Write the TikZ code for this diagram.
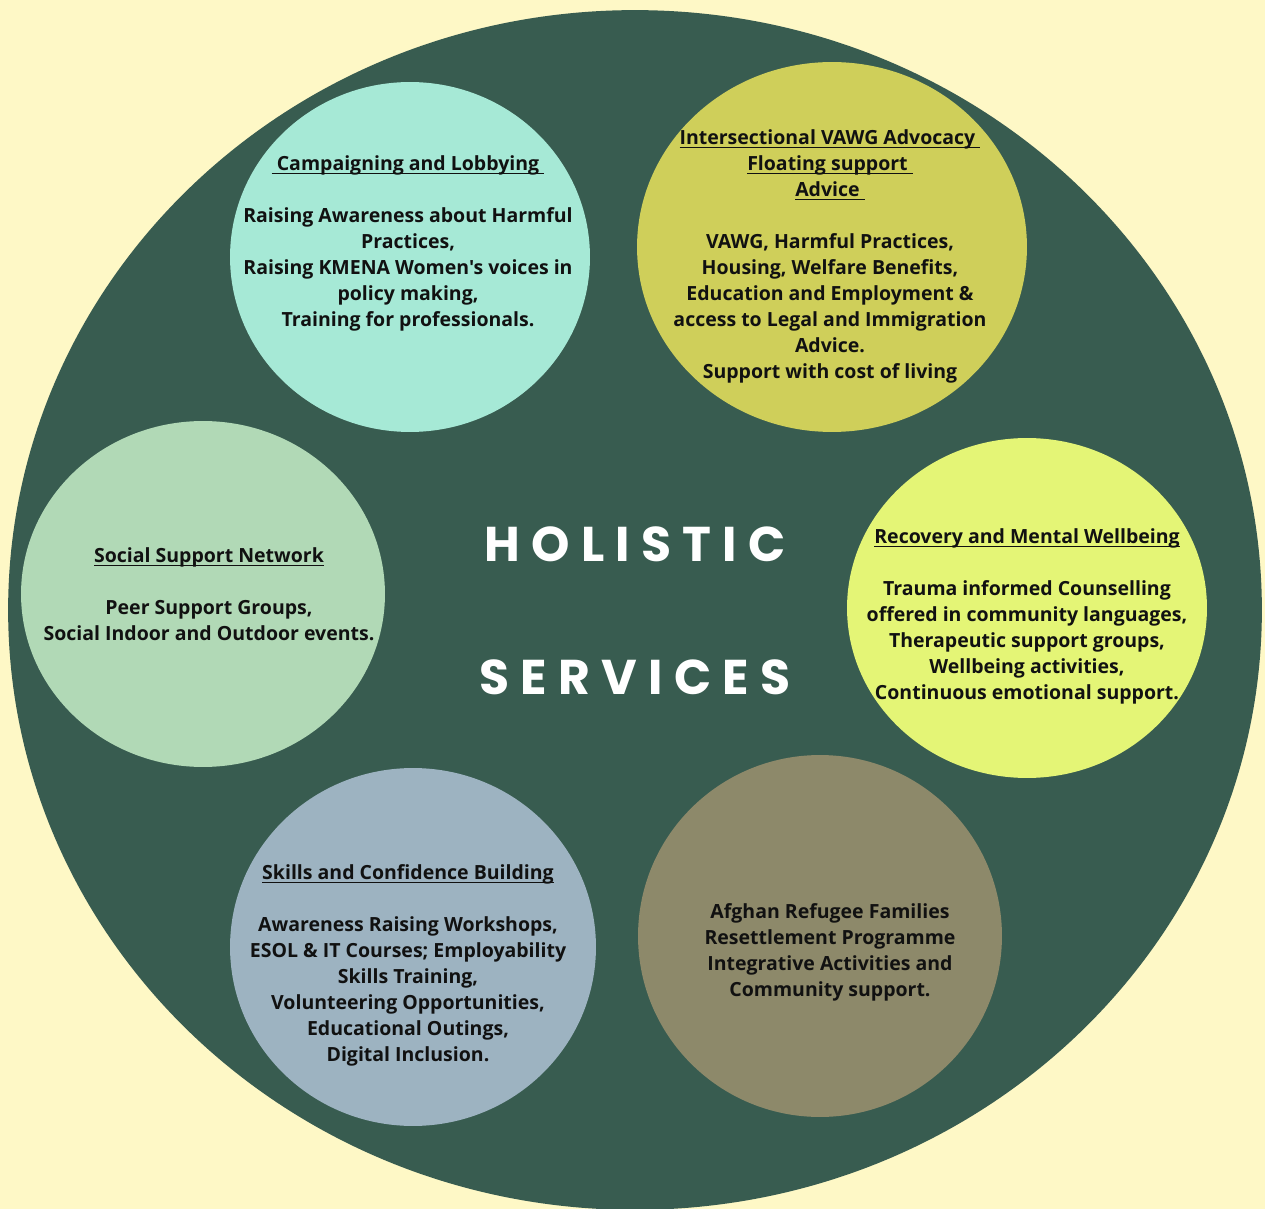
\documentclass[tikz,border=0pt]{standalone}
\usepackage{fontspec}
\setmainfont{Open Sans}[Ligatures=TeXOff]
\newfontfamily\headfont[LetterSpace=23]{Poppins}

\definecolor{cream}{HTML}{FEF8C6}
\definecolor{pine}{HTML}{385C50}
\definecolor{mint}{HTML}{A6E9D6}
\definecolor{olive}{HTML}{CFCF5A}
\definecolor{sage}{HTML}{B1D9B6}
\definecolor{lime}{HTML}{E4F576}
\definecolor{slate}{HTML}{9DB3C1}
\definecolor{khaki}{HTML}{8D896A}
\definecolor{ink}{HTML}{111111}

% underlined heading, spaces kept
\newcommand\ttl[1]{\setbox0\hbox{#1}\rlap{\rule[-2.2pt]{\wd0}{0.6pt}}\box0}

\begin{document}
\begin{tikzpicture}[x=0.02cm, y=-0.02cm,
  txt/.style = {align=center, text=ink, inner sep=0pt,
    font=\fontsize{11.1}{14.8}\selectfont\bfseries},
  head/.style = {text=white, inner sep=0pt,
    font=\headfont\fontsize{27.8}{30}\selectfont\bfseries}]
  \useasboundingbox (0,0) rectangle (1265,1209);
  \clip (0,0) rectangle (1265,1209);
  \fill[cream] (0,0) rectangle (1265,1209);
  \fill[pine] (635,610) ellipse [x radius=12.54cm, y radius=12cm];

  % service bubbles
  \fill[mint]  (410,257) ellipse [x radius=3.6cm,  y radius=3.5cm];
  \fill[olive] (832,247) ellipse [x radius=3.9cm,  y radius=3.7cm];
  \fill[sage]  (203,594) ellipse [x radius=3.64cm, y radius=3.46cm];
  \fill[lime]  (1027,608) ellipse [x radius=3.6cm, y radius=3.4cm];
  \fill[slate] (413,947) ellipse [x radius=3.66cm, y radius=3.58cm];
  \fill[khaki] (820,936) ellipse [x radius=3.64cm, y radius=3.62cm];

  % centre title
  \node[head] (holistic) at (635,544) {HOLISTIC};
  \node[head] (services) at (635,677) {SERVICES};

  % bubble texts
  \node[txt] (camp) at (408,243) {\ttl{\ Campaigning and Lobbying\ }\\[14.8pt]
    Raising Awareness about Harmful\\ Practices,\\
    Raising KMENA Women's voices in\\ policy making,\\
    Training for professionals.};
  \node[txt] (vawg) at (830,256) {\ttl{Intersectional VAWG Advocacy\ }\\
    \ttl{Floating support\ }\\ \ttl{Advice\ }\\[14.8pt]
    VAWG, Harmful Practices,\\ Housing, Welfare Benefits,\\
    Education and Employment \&\\ access to Legal and Immigration\\
    Advice.\\ Support with cost of living};
  \node[txt] (social) at (209,594) {\ttl{Social Support Network}\\[14.8pt]
    Peer Support Groups,\\ Social Indoor and Outdoor events.};
  \node[txt] (recovery) at (1027,616) {\ttl{Recovery and Mental Wellbeing}\\[14.8pt]
    Trauma informed Counselling\\ offered in community languages,\\
    Therapeutic support groups,\\ Wellbeing activities,\\
    Continuous emotional support.};
  \node[txt] (skills) at (408,965) {\ttl{Skills and Confidence Building}\\[14.8pt]
    Awareness Raising Workshops,\\ ESOL \& IT Courses; Employability\\
    Skills Training,\\ Volunteering Opportunities,\\
    Educational Outings,\\ Digital Inclusion.};
  \node[txt] (afghan) at (830,952) {Afghan Refugee Families\\
    Resettlement Programme\\ Integrative Activities and\\
    Community support.};
\end{tikzpicture}
\end{document}
